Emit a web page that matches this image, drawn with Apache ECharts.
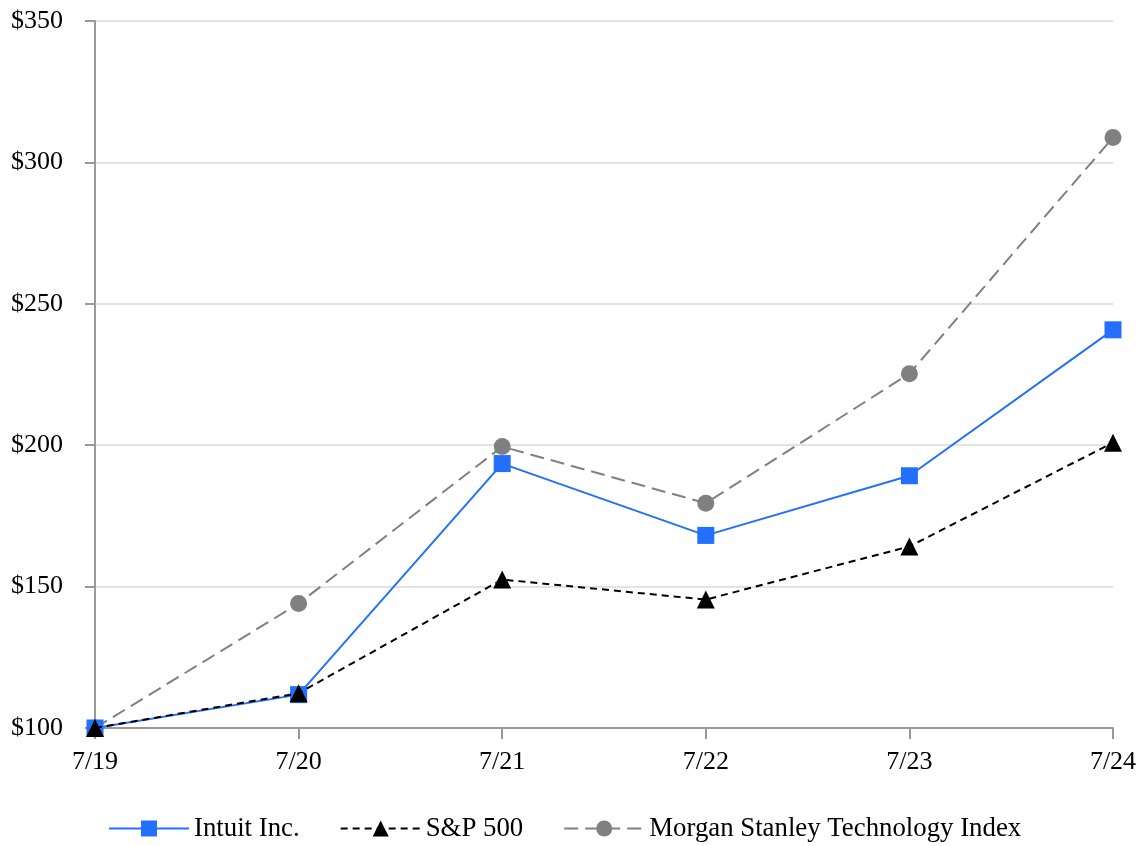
<!DOCTYPE html>
<html><head><meta charset="utf-8">
<script src="https://cdn.jsdelivr.net/npm/echarts@6/dist/echarts.min.js"></script>
<style>html,body{margin:0;padding:0;background:#fff}#c{width:1140px;height:846px}</style>
</head><body><div id="c"></div>
<script>
const categories = ['7/19','7/20','7/21','7/22','7/23','7/24'];
const intuit = [100, 111.8, 193.5, 168.1, 189.2, 240.8];
const sp500 = [100, 112.3, 152.5, 145.4, 164.2, 200.9];
const msTech = [100, 144.0, 199.5, 179.5, 225.3, 308.8];
const yTicks = {min: 100, max: 350, interval: 50};

const font = 'Liberation Serif';
const chart = echarts.init(document.getElementById('c'));
chart.setOption({
  animation: false,
  grid: {left: 95, right: 27, top: 21, bottom: 118},
  legend: {
    bottom: -1, left: 103, itemWidth: 80, itemHeight: 20, itemGap: 40,
    textStyle: {fontFamily: font, fontSize: 26.8, color: '#000'},
    data: ['Intuit Inc.', 'S&P 500', 'Morgan Stanley Technology Index']
  },
  xAxis: {
    type: 'category', data: categories, boundaryGap: false,
    axisLine: {lineStyle: {color: '#999', width: 2}},
    axisTick: {show: true, length: 11, alignWithLabel: true, lineStyle: {color: '#999', width: 2}},
    axisLabel: {fontFamily: font, fontSize: 26, color: '#000', margin: 21},
    splitLine: {show: false}
  },
  yAxis: {
    type: 'value', min: yTicks.min, max: yTicks.max, interval: yTicks.interval,
    axisLine: {show: true, lineStyle: {color: '#999', width: 2}},
    axisTick: {show: true, length: 10, lineStyle: {color: '#999', width: 2}},
    axisLabel: {fontFamily: font, fontSize: 26, color: '#000', margin: 32, formatter: v => '$' + v},
    splitLine: {lineStyle: {color: '#e3e3e3', width: 2}}
  },
  series: [
    {name: 'Intuit Inc.', type: 'line', data: intuit, symbol: 'rect', symbolSize: 17,
     itemStyle: {color: '#2370ff'}, lineStyle: {color: '#2370ff', width: 2}, z: 3},
    {name: 'S&P 500', type: 'line', data: sp500, symbol: 'triangle', symbolSize: 18,
     itemStyle: {color: '#000'}, lineStyle: {color: '#000', width: 2, type: [7, 5]}, z: 4},
    {name: 'Morgan Stanley Technology Index', type: 'line', data: msTech, symbol: 'circle', symbolSize: 17,
     itemStyle: {color: '#808080'}, lineStyle: {color: '#808080', width: 2, type: [14, 7]}, z: 2}
  ]
});
</script></body></html>
